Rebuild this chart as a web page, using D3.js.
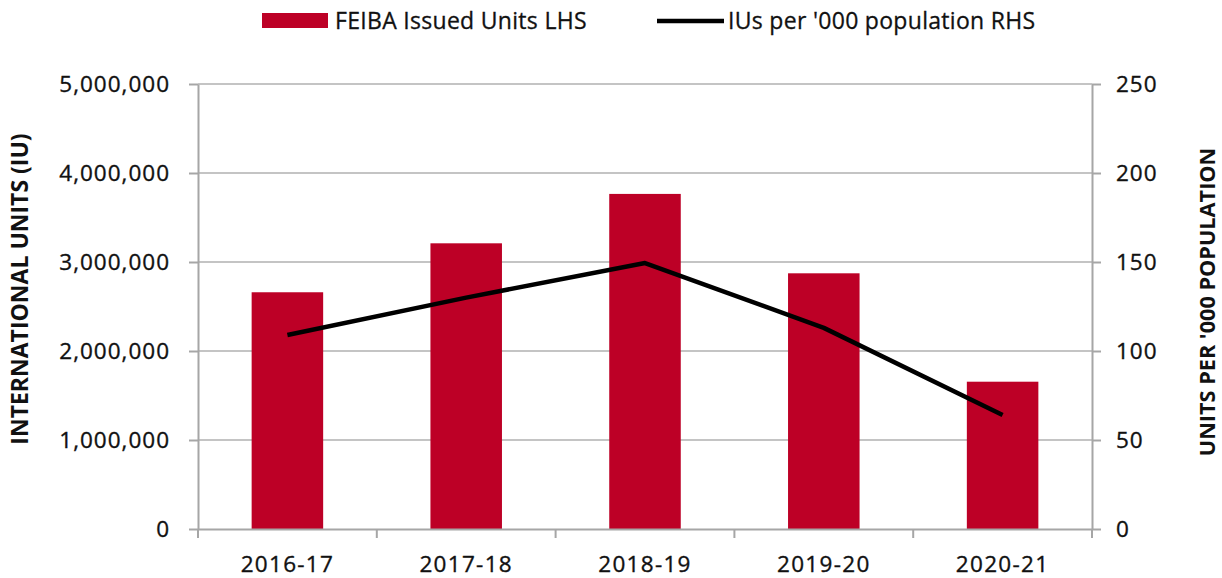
<!DOCTYPE html>
<html>
<head>
<meta charset="utf-8">
<style>
    body { margin: 0; background: #fff; }
    svg text { font-family: "Open Sans", sans-serif; fill: #111; }
    .tick text { font-size: 22.5px; stroke: #111; stroke-width: 0.35px; }
    .ytick text { letter-spacing: 1px; }
    .xtick text { letter-spacing: 1.3px; }
    .axis-title { font-weight: bold; }
    .legend text { font-size: 23px; letter-spacing: 0.3px; stroke: #111; stroke-width: 0.3px; }
</style>
</head>
<body>
<svg id="chart"></svg>
<script src="https://d3js.org/d3.v7.min.js"></script>
<script>

// data
var years = ["2016-17", "2017-18", "2018-19", "2019-20", "2020-21"];
var issuedUnits = [2660000, 3210000, 3765000, 2873000, 1655000];
var perThousand = [109, 130, 149.4, 113, 64];
var leftTicks = [0, 1000000, 2000000, 3000000, 4000000, 5000000];
var rightTicks = [0, 50, 100, 150, 200, 250];

var screen = {width: 1222, height: 578};
var margins = {top: 84, bottom: 49, left: 198, right: 130};
var graph = {
    width: screen.width - margins.left - margins.right,
    height: screen.height - margins.top - margins.bottom
};

var svg = d3.select("#chart")
    .attr("width", screen.width)
    .attr("height", screen.height);

var xScale = d3.scaleBand()
    .domain(years)
    .range([0, graph.width])
    .paddingInner(0.6)
    .paddingOuter(0.3);

var xBounds = d3.scaleBand()
    .domain(years)
    .range([0, graph.width]);

var yLeft = d3.scaleLinear()
    .domain([0, 5000000])
    .range([graph.height, 0]);

var yRight = d3.scaleLinear()
    .domain([0, 250])
    .range([graph.height, 0]);

var g = svg.append("g")
    .attr("transform", "translate(" + margins.left + "," + margins.top + ")");

// gridlines
g.append("g")
    .selectAll("line")
    .data(leftTicks.slice(1))
    .enter()
    .append("line")
    .attr("x1", 0)
    .attr("x2", graph.width)
    .attr("y1", function(d) { return yLeft(d); })
    .attr("y2", function(d) { return yLeft(d); })
    .attr("stroke", "#b0b0b0")
    .attr("stroke-width", 1.5);

// bars
g.append("g")
    .selectAll("rect")
    .data(years)
    .enter()
    .append("rect")
    .attr("x", function(d) { return xScale(d); })
    .attr("y", function(d, i) { return yLeft(issuedUnits[i]); })
    .attr("width", xScale.bandwidth())
    .attr("height", function(d, i) { return graph.height - yLeft(issuedUnits[i]); })
    .attr("fill", "#bd0026");

// line on RHS
var line = d3.line()
    .x(function(d, i) { return xBounds(years[i]) + xBounds.bandwidth() / 2; })
    .y(function(d) { return yRight(d); });

g.append("path")
    .datum(perThousand)
    .attr("d", line)
    .attr("fill", "none")
    .attr("stroke", "#000")
    .attr("stroke-width", 4.5)
    .attr("stroke-linejoin", "round");

// axes
var styleAxis = function(sel) {
    sel.selectAll(".domain").attr("stroke", "#a6a6a6").attr("stroke-width", 2);
    sel.selectAll(".tick line").attr("stroke", "#a6a6a6").attr("stroke-width", 2);
    sel.selectAll(".tick text").attr("fill", "#111");
};

g.append("g")
    .attr("class", "ytick")
    .call(d3.axisLeft(yLeft)
        .tickValues(leftTicks)
        .tickSize(9)
        .tickSizeOuter(0)
        .tickPadding(19)
        .tickFormat(d3.format(",")))
    .attr("font-family", null)
    .attr("font-size", null)
    .call(styleAxis);

g.append("g")
    .attr("class", "ytick")
    .attr("transform", "translate(" + graph.width + ",0)")
    .call(d3.axisRight(yRight)
        .tickValues(rightTicks)
        .tickSize(9)
        .tickSizeOuter(0)
        .tickPadding(15))
    .attr("font-family", null)
    .attr("font-size", null)
    .call(styleAxis);

var xAxis = g.append("g")
    .attr("class", "xtick")
    .attr("transform", "translate(0," + graph.height + ")")
    .call(d3.axisBottom(xBounds).tickSize(0).tickSizeOuter(0).tickPadding(27))
    .attr("font-family", null)
    .attr("font-size", null)
    .call(styleAxis);

// category separator ticks
xAxis.append("g")
    .selectAll("line")
    .data(years.concat(["end"]))
    .enter()
    .append("line")
    .attr("x1", function(d, i) { return i * xBounds.step(); })
    .attr("x2", function(d, i) { return i * xBounds.step(); })
    .attr("y1", 0)
    .attr("y2", 9)
    .attr("stroke", "#a6a6a6")
    .attr("stroke-width", 2);

// axis titles
svg.append("text")
    .attr("class", "axis-title")
    .attr("text-anchor", "middle")
    .attr("font-size", "23px")
    .attr("transform", "translate(28,289) rotate(-90)")
    .text("INTERNATIONAL UNITS (IU)");

svg.append("text")
    .attr("class", "axis-title")
    .attr("text-anchor", "middle")
    .attr("font-size", "21.7px")
    .attr("transform", "translate(1215,302) rotate(-90)")
    .text("UNITS PER '000 POPULATION");

// legend
var legend = svg.append("g").attr("class", "legend");

legend.append("rect")
    .attr("x", 262).attr("y", 13)
    .attr("width", 66).attr("height", 15)
    .attr("fill", "#bd0026");
legend.append("text")
    .attr("x", 335).attr("y", 29)
    .text("FEIBA Issued Units LHS");

legend.append("line")
    .attr("x1", 657).attr("x2", 724)
    .attr("y1", 21).attr("y2", 21)
    .attr("stroke", "#000")
    .attr("stroke-width", 4.5);
legend.append("text")
    .attr("x", 728).attr("y", 29)
    .text("IUs per '000 population RHS");

</script>
</body>
</html>
